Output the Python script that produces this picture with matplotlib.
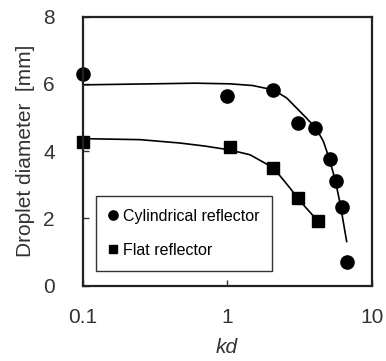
import matplotlib
matplotlib.use('Agg')
import matplotlib.pyplot as plt

plt.rcParams['font.family'] = ['Liberation Sans', 'DejaVu Sans']

# measured points
cyl_kd = [0.1, 1.0, 2.09, 3.07, 4.07, 5.15, 5.64, 6.20, 6.71]
cyl_d = [6.29, 5.65, 5.82, 4.85, 4.70, 3.76, 3.11, 2.35, 0.71]
flat_kd = [0.1, 1.04, 2.09, 3.07, 4.23]
flat_d = [4.28, 4.12, 3.51, 2.61, 1.91]

# fitted curves
cyl_fit_kd = [0.1, 0.3, 0.6, 1.05, 1.5, 2.09, 2.58, 3.36, 4.12, 4.63, 5.09, 5.58, 6.04, 6.71]
cyl_fit_d = [5.97, 6.0, 6.02, 6.0, 5.95, 5.82, 5.58, 5.08, 4.68, 4.29, 3.77, 3.15, 2.45, 1.31]
flat_fit_kd = [0.1, 0.25, 0.47, 0.7, 0.89, 1.05, 1.44, 2.09, 2.44, 2.72, 3.07, 3.45, 4.16]
flat_fit_d = [4.37, 4.34, 4.24, 4.15, 4.08, 4.03, 3.89, 3.50, 3.15, 2.90, 2.61, 2.35, 1.96]

x_ticks = [0.1, 1, 10]
x_tick_labels = ['0.1', '1', '10']
y_ticks = [0, 2, 4, 6, 8]

fig = plt.figure(figsize=(3.86, 3.61), dpi=100)
ax = fig.add_axes([0.214, 0.209, 0.749, 0.745])

ax.plot(cyl_fit_kd, cyl_fit_d, color='black', lw=1.2)
ax.plot(flat_fit_kd, flat_fit_d, color='black', lw=1.2)
ax.plot(cyl_kd, cyl_d, 'o', color='black', ms=9.5, clip_on=False, label='Cylindrical reflector')
ax.plot(flat_kd, flat_d, 's', color='black', ms=8.5, clip_on=False, label='Flat reflector')

ax.set_xscale('log')
ax.set_xlim(0.1, 10)
ax.set_ylim(0, 8)
ax.set_xticks(x_ticks)
ax.set_xticklabels(x_tick_labels)
ax.minorticks_off()
ax.set_yticks(y_ticks)
ax.tick_params(direction='in', length=4, width=1, labelsize=15, colors='#333333')
ax.tick_params(axis='y', pad=20)
ax.tick_params(axis='x', pad=16)
for s in ax.spines.values():
    s.set_linewidth(1.6)
    s.set_color('#222222')

ax.set_xlabel('kd', fontsize=15, style='italic', color='#333333', labelpad=8)
ax.set_ylabel('Droplet diameter  [mm]', fontsize=15, color='#333333', labelpad=6)

leg = ax.legend(loc='lower left', bbox_to_anchor=(0.046, 0.055), borderaxespad=0,
                fontsize=11.5, fancybox=False, edgecolor='#333333', markerscale=0.7,
                handlelength=0.6, handletextpad=0.3, labelspacing=1.2, borderpad=0.8,
                framealpha=1)
leg.get_frame().set_linewidth(1.0)

fig.savefig('out.png', dpi=100)
